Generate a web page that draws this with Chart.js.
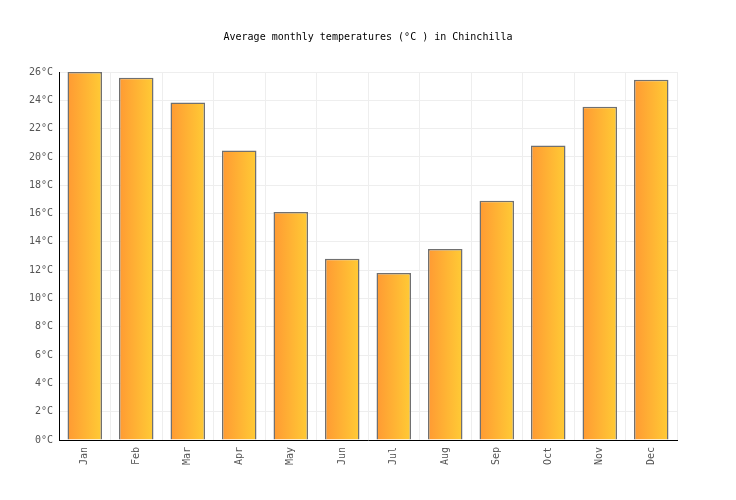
<!DOCTYPE html>
<html>
<head>
<meta charset="utf-8">
<script src="https://cdn.jsdelivr.net/npm/chart.js@4"></script>
<style>
html,body{margin:0;padding:0;background:#fff;}
#wrap{width:736px;height:500px;position:relative;}
</style>
</head>
<body>
<div id="wrap"><canvas id="c" width="736" height="500"></canvas></div>
<script>
const titleText = "Average monthly temperatures (°C ) in Chinchilla";
const months = ["Jan","Feb","Mar","Apr","May","Jun","Jul","Aug","Sep","Oct","Nov","Dec"];
const temps = [26.0, 25.6, 23.85, 20.45, 16.1, 12.8, 11.8, 13.5, 16.9, 20.8, 23.55, 25.45];
const yMin = 0, yMax = 26, yStep = 2;
const unit = "°C";

const FONT = "'DejaVu Sans Mono', monospace";
const BAR_PCT = 0.67;

function barGradient(context) {
  const chart = context.chart;
  const xs = chart.scales && chart.scales.x;
  if (!chart.chartArea || !xs || context.dataIndex === undefined) return '#ffb233';
  const cx = xs.getPixelForValue(context.dataIndex);
  const w = (xs.width / months.length) * BAR_PCT;
  const g = chart.ctx.createLinearGradient(cx - w / 2, 0, cx + w / 2, 0);
  g.addColorStop(0, '#ff9a33');
  g.addColorStop(1, '#ffcb35');
  return g;
}

const titlePlugin = {
  id: 'customTitle',
  afterDraw(chart) {
    const ctx = chart.ctx;
    ctx.save();
    ctx.font = "10px " + FONT;
    ctx.fillStyle = '#000';
    ctx.textAlign = 'center';
    ctx.textBaseline = 'middle';
    ctx.fillText(titleText, chart.width / 2, 37);
    ctx.restore();
  }
};

new Chart(document.getElementById('c'), {
  type: 'bar',
  data: {
    labels: months,
    datasets: [{
      data: temps,
      backgroundColor: barGradient,
      borderColor: '#707070',
      borderWidth: 1.5,
      borderSkipped: 'start',
      categoryPercentage: 1.0,
      barPercentage: BAR_PCT
    }]
  },
  plugins: [titlePlugin],
  options: {
    responsive: false,
    animation: false,
    devicePixelRatio: 1,
    layout: { padding: { top: 72, left: 0, right: 59, bottom: 0 } },
    plugins: {
      legend: { display: false },
      title: { display: false },
      tooltip: { enabled: false }
    },
    scales: {
      x: {
        grid: { color: '#eeeeee', lineWidth: 1, drawTicks: false, offset: true },
        border: { color: '#000', width: 1 },
        ticks: {
          font: { family: FONT, size: 10 },
          color: '#555',
          minRotation: 90,
          maxRotation: 90,
          padding: 7
        },
        afterFit(scale) { scale.height = 60; }
      },
      y: {
        min: yMin,
        max: yMax,
        grid: { color: '#eeeeee', lineWidth: 1, drawTicks: false },
        border: { color: '#000', width: 1 },
        ticks: {
          stepSize: yStep,
          font: { family: FONT, size: 10 },
          color: '#555',
          padding: 6,
          callback: v => v + unit
        },
        afterFit(scale) { scale.width = 59; }
      }
    }
  }
});
</script>
</body>
</html>
